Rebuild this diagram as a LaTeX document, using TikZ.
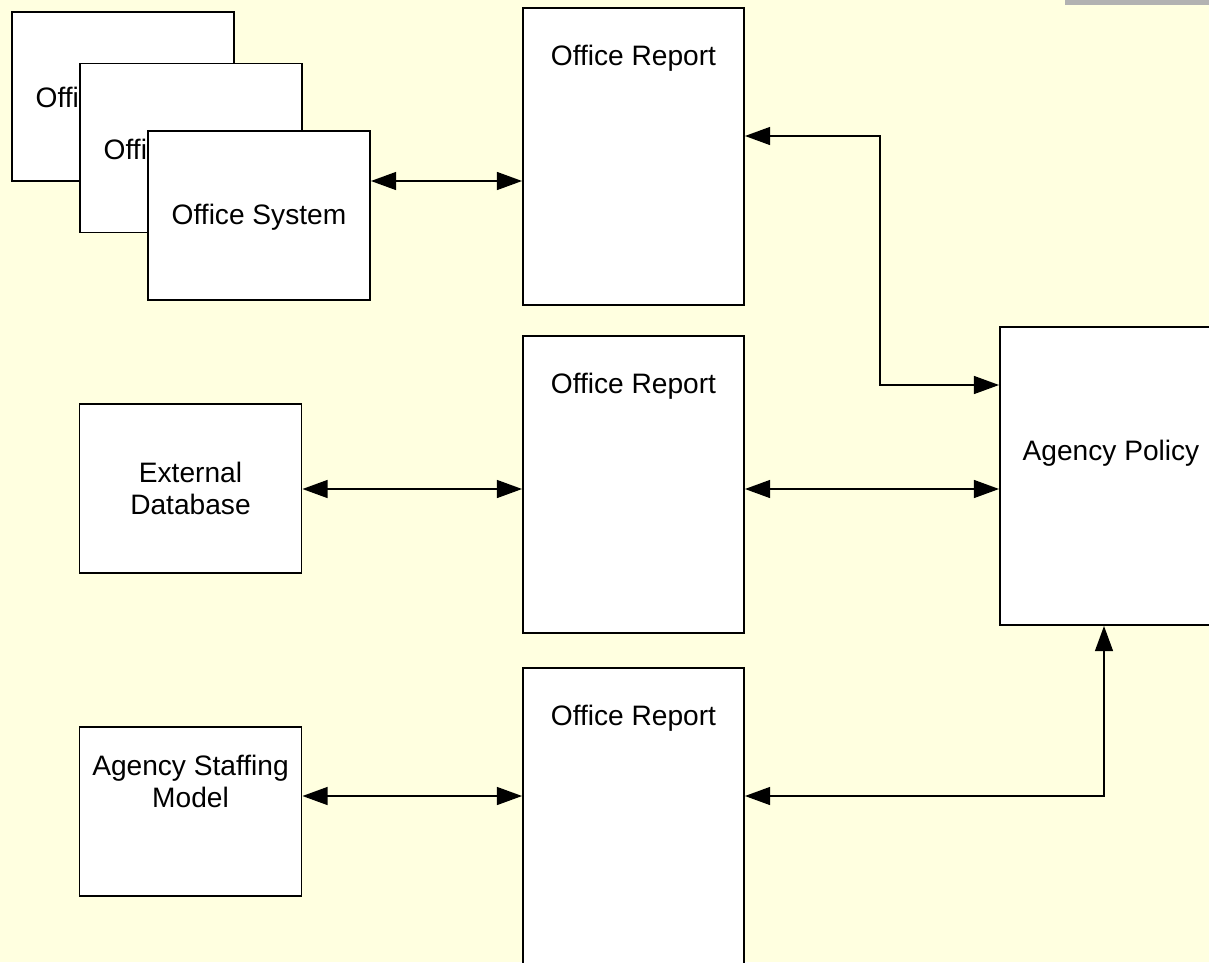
\documentclass[tikz,border=0pt]{standalone}
\usepackage{fontspec}
\setmainfont{Liberation Sans}
\usetikzlibrary{arrows.meta}
\definecolor{paper}{HTML}{FFFFE0}
\definecolor{barGray}{HTML}{B2B2B2}
\begin{document}
\begin{tikzpicture}[x=0.025cm,y=-0.025cm,
  txt/.style={font=\fontsize{20}{23}\selectfont, align=center},
  box/.style={draw=black, fill=white, line width=1.1pt, rectangle, inner sep=0pt, txt},
  smallbox/.style={box, minimum width=5.55cm, minimum height=4.225cm},
  tallbox/.style={box, minimum width=5.525cm, minimum height=7.425cm},
  every label/.style={txt},
  biarrow/.style={line width=2pt, {Triangle[length=18pt,width=12.5pt]}-{Triangle[length=18pt,width=12.5pt]}}
]
% page and clipping frame
\fill[paper] (0,0) rectangle (1209,962);
\clip (0,0) rectangle (1209,962);
\fill[barGray] (1065,0) rectangle (1209,5);

% stacked office systems
\node[smallbox, label={[yshift=-0.1cm]center:Office System}] (sys1) at (123,96.5) {};
\node[smallbox, label={[yshift=-0.1cm]center:Office System}] (sys2) at (191,148) {};
\node[smallbox, label={[yshift=-0.05cm]center:Office System}] (sys3) at (259,215.5) {};

% data sources
\node[smallbox] (ext) at (190.5,488.5) {External\\Database};
\node[smallbox, label={[yshift=0.75cm]center:Agency Staffing\\Model}] (staff) at (190.5,811.5) {};

% office reports
\node[tallbox, label={[yshift=2.46cm]center:Office Report}] (r1) at (633.5,156.5) {};
\node[tallbox, label={[yshift=2.46cm]center:Office Report}] (r2) at (633.5,484.5) {};
\node[tallbox, label={[yshift=2.46cm]center:Office Report}] (r3) at (633.5,816.5) {};

% policy
\node[box, minimum width=5.55cm, minimum height=7.45cm, label={[yshift=0.58cm]center:Agency Policy}] (ag) at (1111,476) {};

% connectors
\coordinate (bendA) at (880,136);
\coordinate (bendB) at (1104,796);
\draw[biarrow] (sys3.east |- 0,181) -- (r1.west |- 0,181);
\draw[biarrow] (ext.east |- 0,489) -- (r2.west |- 0,489);
\draw[biarrow] (r2.east |- 0,489) -- (ag.west |- 0,489);
\draw[biarrow] (staff.east |- 0,796) -- (r3.west |- 0,796);
\draw[biarrow] (r1.east |- bendA) -- (bendA) |- (ag.west |- 0,385);
\draw[biarrow] (r3.east |- bendB) -- (bendB) -- (bendB |- ag.south);
\end{tikzpicture}
\end{document}
